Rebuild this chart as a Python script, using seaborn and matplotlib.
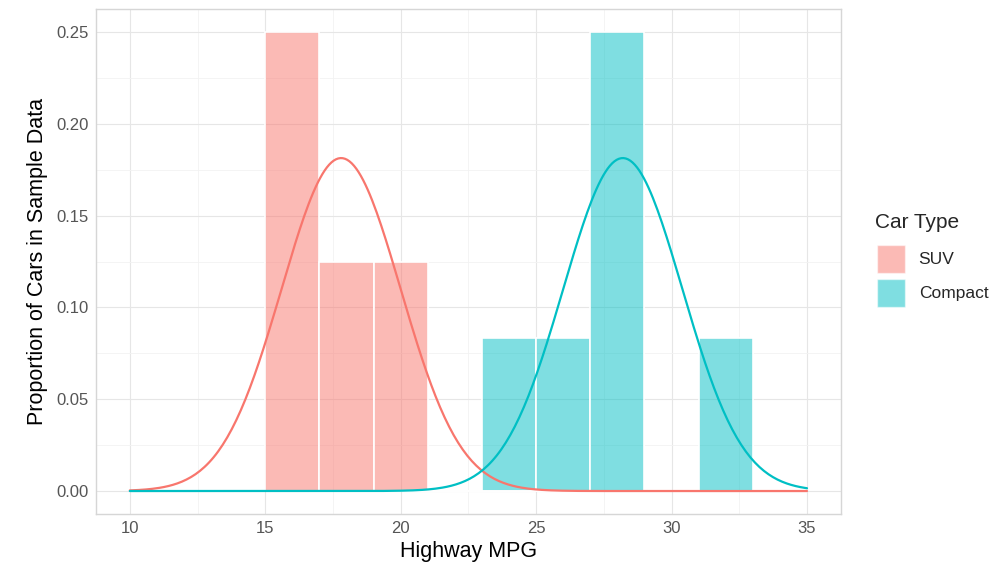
import matplotlib
matplotlib.use('Agg')
import matplotlib.pyplot as plt
from matplotlib.patches import Patch
from matplotlib.ticker import MultipleLocator
import seaborn as sns
import pandas as pd
import numpy as np

### Data ###
car_types = ["SUV", "Compact"]
suv_hwy = [16, 16, 18, 20]
compact_hwy = [24, 26, 28, 28, 28, 32]
# normal curve parameters (mean, sd)
curve_mean = [17.8, 28.2]
curve_sd = [2.2, 2.2]
bin_edges = [15, 17, 19, 21, 23, 25, 27, 29, 31, 33]
x_ticks = [10, 15, 20, 25, 30, 35]
y_ticks = [0.00, 0.05, 0.10, 0.15, 0.20, 0.25]

colors = {"SUV": "#F8766D", "Compact": "#00BFC4"}

sns.set_style("white")
plt.rcParams['font.family'] = ['Liberation Sans', 'DejaVu Sans']

df = pd.DataFrame({
    "hwy": suv_hwy + compact_hwy,
    "type": ["SUV"] * len(suv_hwy) + ["Compact"] * len(compact_hwy),
})

fig = plt.figure(figsize=(10.07, 5.65), dpi=100)
ax = fig.add_axes([0.0953, 0.0903, 0.7397, 0.8937])

sns.histplot(
    data=df, x="hwy", hue="type", hue_order=car_types,
    bins=bin_edges, stat="density", common_norm=False,
    palette=colors, alpha=0.5, edgecolor="white", linewidth=1.2,
    legend=False, ax=ax, zorder=2,
)

# Normal density curves
xs = np.linspace(10, 35, 300)
for t, mu, sd in zip(car_types, curve_mean, curve_sd):
    ys = np.exp(-0.5 * ((xs - mu) / sd) ** 2) / (sd * np.sqrt(2 * np.pi))
    sns.lineplot(x=xs, y=ys, color=colors[t], linewidth=1.6, ax=ax, zorder=3)

# Formatting.
ax.set_xlim(8.75, 36.25)
ax.set_ylim(-0.0125, 0.2625)
ax.set_xticks(x_ticks)
ax.set_yticks(y_ticks)
ax.set_yticklabels([f"{v:.2f}" for v in y_ticks])
ax.xaxis.set_minor_locator(MultipleLocator(2.5))
ax.yaxis.set_minor_locator(MultipleLocator(0.025))
ax.grid(which="major", color="#E6E6E6", linewidth=0.8, zorder=0)
ax.grid(which="minor", color="#F2F2F2", linewidth=0.6, zorder=0)
ax.set_axisbelow(True)
ax.tick_params(axis="both", which="both", length=0, labelsize=12,
               labelcolor="#555555", pad=5)
for s in ax.spines.values():
    s.set_color("#D6D6D6")
    s.set_linewidth(1.0)

ax.set_xlabel("Highway MPG", fontsize=15.5, color="black", labelpad=4)
ax.set_ylabel("Proportion of Cars in Sample Data", fontsize=15.5, color="black", labelpad=6)

# Legend: title as separate text, keys below
fig.text(875 / 1007, 1 - 222 / 565, "Car Type", fontsize=15, va="center", ha="left")
handles = [Patch(facecolor=colors[t], alpha=0.5, edgecolor="white") for t in car_types]
fig.legend(handles, car_types, loc="upper left", bbox_to_anchor=(0.864, 0.579),
           borderaxespad=0, frameon=False, fontsize=12.5,
           handlelength=1.6, handleheight=2.1, handletextpad=0.8, labelspacing=0.35)

plt.savefig("out.png", dpi=100)
plt.close()
